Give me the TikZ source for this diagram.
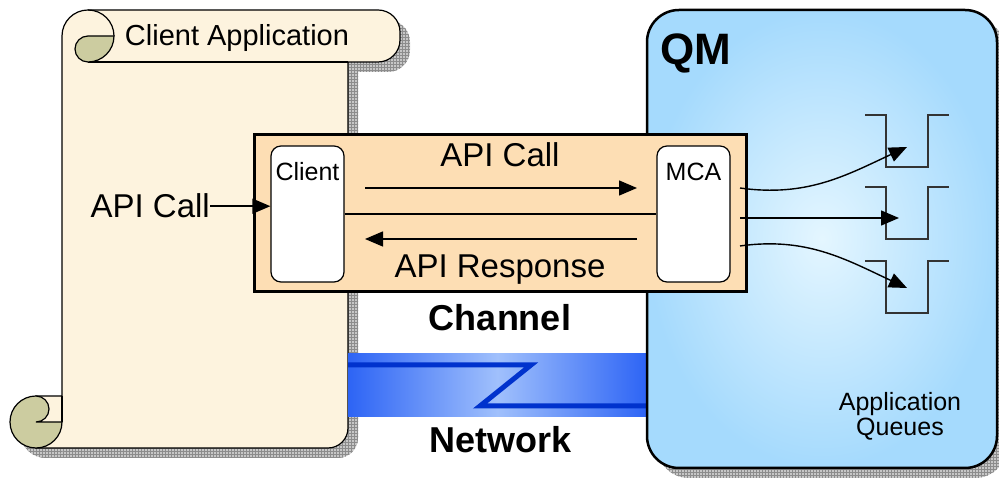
\documentclass[tikz,border=0pt]{standalone}
\usepackage{fontspec}
\setmainfont{Liberation Sans}
\usetikzlibrary{arrows.meta,patterns,positioning}
\definecolor{cream}{RGB}{253,243,222}
\definecolor{curl}{RGB}{204,204,160}
\definecolor{peach}{RGB}{253,222,180}
\definecolor{qmlight}{RGB}{228,246,255}
\definecolor{qmdark}{RGB}{165,218,253}
\definecolor{netedge}{RGB}{45,100,245}
\definecolor{netmid}{RGB}{160,192,252}
\definecolor{netline}{RGB}{0,50,205}
\begin{document}
\begin{tikzpicture}[x=1pt,y=1pt,
shadowfill/.style={preaction={fill=black!22},pattern=grid,pattern color=black!45},
scroll/.style={draw=black,line width=1.2pt,fill=cream},
curlpart/.style={draw=black,line width=1.2pt,fill=curl},
qmbox/.style={rectangle,draw=black,line width=2.5pt,rounded corners=32pt,inner color=qmlight,outer color=qmdark,minimum width=350pt,minimum height=458pt},
chanbox/.style={rectangle,draw=black,line width=3pt,fill=peach,minimum width=492pt,minimum height=157pt},
endbox/.style={rectangle,draw=black,line width=1.2pt,fill=white,rounded corners=10pt,minimum width=73pt,minimum height=136pt},
queue/.style={draw=black!80,line width=1.2pt},
arr/.style={line width=1.4pt,-{Triangle[length=18pt,width=15pt]}},
big/.style={font=\fontsize{33}{36}\selectfont},
small/.style={font=\fontsize{25}{27}\selectfont},
bold/.style={font=\fontsize{36}{40}\selectfont\bfseries},
]
\useasboundingbox (0,0) rectangle (999,478);

% Client Application scroll
\begin{scope}[shift={(10,-10)}]
\fill[shadowfill] (62,442) arc[start angle=180,end angle=90,radius=26pt] -- (378,468) arc[start angle=90,end angle=0,radius=22pt] -- (400,438) arc[start angle=0,end angle=-90,radius=22pt] -- (348,416) -- (348,50) arc[start angle=0,end angle=-90,radius=20pt] -- (36,30) -- (36,82) -- (62,82) -- cycle;
\fill[shadowfill] (36,56) circle[radius=26pt];
\end{scope}
\filldraw[scroll] (62,442) arc[start angle=180,end angle=90,radius=26pt] -- (378,468) arc[start angle=90,end angle=0,radius=22pt] -- (400,438) arc[start angle=0,end angle=-90,radius=22pt] -- (348,416) -- (348,50) arc[start angle=0,end angle=-90,radius=20pt] -- (36,30) -- (36,82) -- (62,82) -- cycle;
\draw[line width=1.2pt] (348,416) -- (88,416) (62,82) -- (62,56);
\draw[line width=1.2pt] (88,468) arc[start angle=90,end angle=0,radius=26pt];
\filldraw[curlpart] (88,416) arc[start angle=270,end angle=90,radius=13pt] -- (114,442) arc[start angle=0,end angle=-90,radius=26pt] -- cycle;
\filldraw[curlpart] (36,82) arc[start angle=90,end angle=360,radius=26pt] -- (36,56) arc[start angle=-90,end angle=90,radius=13pt] -- cycle;
\node[font=\fontsize{29}{31}\selectfont] (title) at (237,440) {Client Application};

% QM and network
\fill[shadowfill,rounded corners=32pt] (657,0) rectangle (1007,458);
\shade[left color=netedge,right color=netedge,middle color=netmid] (348,61) rectangle (647,124);
\draw[netline,line width=5pt] (348,113) -- (531,113) -- (480,72) -- (647,72);
\node[qmbox] (qm) at (822,239) {};
\node[font=\fontsize{44}{48}\selectfont\bfseries,anchor=base west,inner sep=0pt] (qmlbl) at (660,413) {QM};
\node[font=\fontsize{25}{25}\selectfont,align=center] (queues) at (900,62) {Application\\Queues};
\node[bold,anchor=base] (network) at (501,25) {Network};

% channel
\node[chanbox] (channel) at (500,264.5) {};
\node[endbox] (client) at (307.5,264) {};
\node[endbox] (mca) at (693.5,264) {};
\node[small] at (307.5,306) {Client};
\node[small] at (693.5,306) {MCA};
\node[big,anchor=base] (call) at (500,311) {API Call};
\node[big,anchor=base] (response) at (500,200) {API Response};
\node[bold,anchor=base] (chanlbl) at (500,147) {Channel};
\node[big,anchor=base east,inner sep=0pt] (callin) at (210,260) {API Call};

\coordinate (callA) at (365,290);
\coordinate (callB) at (637,290);
\coordinate (respA) at (637,239);
\coordinate (respB) at (365,239);
\coordinate (m1) at (740,290);
\coordinate (m2) at (740,260);
\coordinate (m3) at (740,232);
\coordinate (q1) at (907,331);
\coordinate (q2) at (899,260);
\coordinate (q3) at (907,190);

\foreach \t in {363,291,217}
  \draw[queue] (865,\t) -- (886,\t) -- (886,\t-52) -- (928,\t-52) -- (928,\t) -- (949,\t);

\draw[line width=1.2pt] (client) -- (mca);
\path[arr] (callin.east) edge (callin.east -| client.west)
           (callA) edge (callB)
           (respA) edge (respB)
           (m1) edge[out=-8,in=205] (q1)
           (m2) edge (q2)
           (m3) edge[out=8,in=155] (q3);

\end{tikzpicture}
\end{document}
